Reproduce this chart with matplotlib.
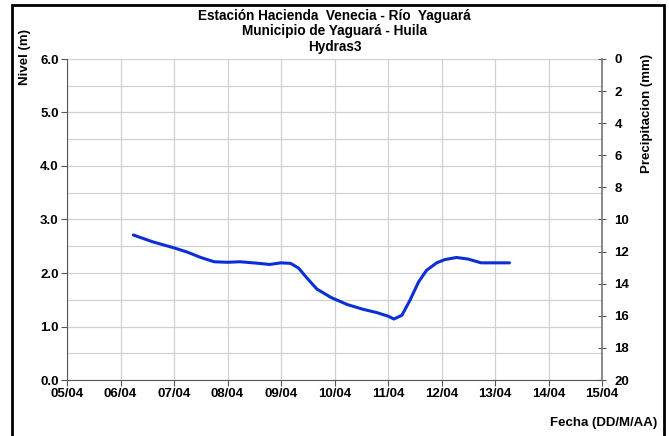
import matplotlib.pyplot as plt
from matplotlib.patches import Rectangle
from matplotlib.ticker import MultipleLocator

# day of April (fractional) and river level in metres
dias = [6.24, 6.61, 7.0, 7.25, 7.5, 7.75, 8.0, 8.23, 8.48, 8.79, 9.0, 9.18,
        9.33, 9.49, 9.67, 9.94, 10.24, 10.54, 10.79, 11.01, 11.11, 11.26,
        11.41, 11.57, 11.72, 11.91, 12.06, 12.28, 12.5, 12.74, 13.02, 13.27]
nivel = [2.71, 2.58, 2.47, 2.39, 2.29, 2.21, 2.20, 2.21, 2.19, 2.16, 2.19, 2.18,
         2.09, 1.90, 1.70, 1.54, 1.41, 1.32, 1.26, 1.19, 1.14, 1.21,
         1.49, 1.83, 2.05, 2.19, 2.25, 2.29, 2.26, 2.19, 2.19, 2.19]
fechas = ["05/04", "06/04", "07/04", "08/04", "09/04", "10/04",
          "11/04", "12/04", "13/04", "14/04", "15/04"]
titulo = "Estación Hacienda  Venecia - Río  Yaguará\nMunicipio de Yaguará - Huila\nHydras3"

plt.rcParams['font.family'] = ['Liberation Sans', 'DejaVu Sans']
plt.rcParams['font.weight'] = 'bold'

fig = plt.figure(figsize=(6.69, 4.36), dpi=100)
ax = fig.add_axes([67/669, 1 - 380/436, 535/669, 321/436])

ax.plot(dias, nivel, color='#0a2fd6', lw=2.2, solid_capstyle='round',
        solid_joinstyle='round')

ax.set_xlim(5, 15)
ax.set_ylim(0, 6)
ax.set_xticks(range(5, 16))
ax.set_xticklabels(fechas)
ax.yaxis.set_major_locator(MultipleLocator(1.0))
ax.yaxis.set_minor_locator(MultipleLocator(0.5))
ax.yaxis.set_major_formatter(lambda v, p: f"{v:.1f}")
ax.grid(True, which='both', color='#d0d0d0', lw=0.9)
ax.set_axisbelow(True)
ax.tick_params(axis='both', labelsize=9.5, length=4, color='#555555', pad=2)
ax.tick_params(axis='y', which='minor', length=0)
ax.spines['top'].set_visible(False)
ax.spines['right'].set_visible(False)
ax.spines['left'].set_color('#555555')
ax.spines['bottom'].set_color('#555555')

ax2 = ax.twinx()
ax2.set_ylim(20, 0)
ax2.yaxis.set_major_locator(MultipleLocator(2))
ax2.tick_params(axis='y', labelsize=9.5, length=6, direction='inout',
                color='#555555', pad=6)
for s in ['top', 'left', 'bottom']:
    ax2.spines[s].set_visible(False)
ax2.spines['right'].set_color('#777777')
ax2.spines['right'].set_linewidth(1.2)

fig.text(0.5, 1 - 9/436, titulo, ha='center', va='top', fontsize=9.8,
         fontweight='bold', linespacing=1.12)
fig.text(25/669, 1 - 57/436, "Nivel (m)", rotation=90, ha='center', va='center',
         fontsize=9.5, fontweight='bold')
fig.text(647/669, 1 - 113/436, "Precipitacion (mm)", rotation=90, ha='center',
         va='center', fontsize=9.5, fontweight='bold')
fig.text(657/669, 1 - 423/436, "Fecha (DD/M/AA)", ha='right', va='center',
         fontsize=9.5, fontweight='bold')

# black frame around the chart
fig.patches.append(Rectangle((12/669, -0.05), (664 - 12)/669, 1.05 - 5/436,
                             transform=fig.transFigure, fill=False,
                             edgecolor='black', lw=2))

fig.savefig("out.png", dpi=100)
